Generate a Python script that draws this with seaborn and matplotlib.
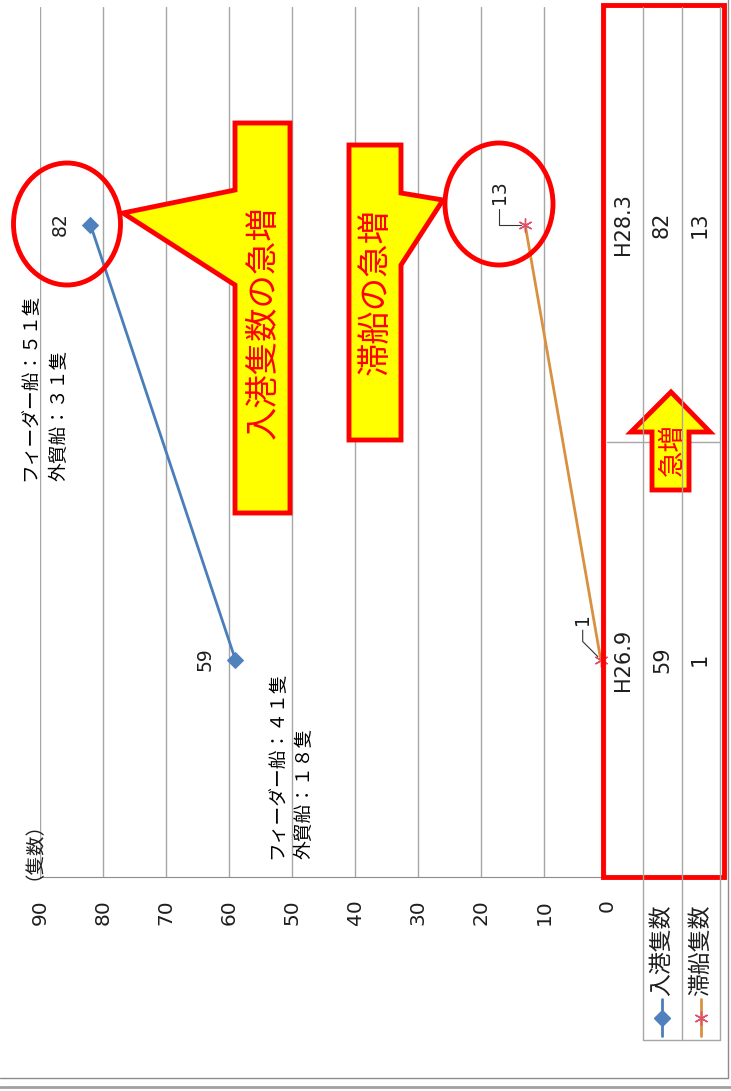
import numpy as np
import pandas as pd
import matplotlib
matplotlib.use("Agg")
import matplotlib.pyplot as plt
import matplotlib.transforms as mtransforms
from matplotlib.patches import Polygon, Ellipse, Rectangle
from matplotlib.lines import Line2D
import seaborn as sns

categories = ["H26.9", "H28.3"]
inbound = [59, 82]        # 入港隻数
waiting = [1, 13]         # 滞船隻数
series_names = ["入港隻数", "滞船隻数"]
value_ticks = [0, 10, 20, 30, 40, 50, 60, 70, 80, 90]
breakdown_h269 = ["フィーダー船：４１隻", "外貿船：１８隻"]
breakdown_h283 = ["フィーダー船：５１隻", "外貿船：３１隻"]
unit_label = "（隻数）"
callout_inbound = "入港隻数の急増"
callout_waiting = "滞船の急増"
arrow_label = "急増"

sns.set_style("white")
plt.rcParams['font.family'] = ['Noto Sans CJK JP', 'DejaVu Sans']
NUM_FONT = ['DejaVu Sans', 'Noto Sans CJK JP']   # wider digits, like the Excel font

W, H = 731, 1091
fig = plt.figure(figsize=(W / 100, H / 100), dpi=100)
fig.patch.set_facecolor("white")

def fx(x):
    return x / W

def fy(y):
    return 1 - y / H

def P(x, y):
    return (x / W, 1 - y / H)

RED = "#FF0000"
YEL = "#FFFF00"
GRID = "#A6A6A6"
TXT = "#1E1E1E"

# the whole chart is turned 90 degrees: values run right -> left
ax = fig.add_axes([fx(40), fy(877), (607 - 40) / W, (877 - 7) / H])
pos = np.arange(len(categories))
df = pd.DataFrame({"pos": pos, "cat": categories, "inbound": inbound, "waiting": waiting})

sns.lineplot(data=df, x="inbound", y="pos", orient="y", sort=False, ax=ax,
             color="#4A7EBB", lw=2, marker="D", markersize=8,
             markerfacecolor="#4F81BD", markeredgecolor="#4F81BD")
sns.lineplot(data=df, x="waiting", y="pos", orient="y", sort=False, ax=ax,
             color="#D9913F", lw=2, marker=(6, 2, 0), markersize=10,
             markeredgecolor="#E0506A", markeredgewidth=1)

ax.set_xlim(90, 0)
ax.set_ylim(-0.5, 1.5)
ax.set_xticks(value_ticks)
ax.set_xticklabels([str(v) for v in value_ticks], rotation=90, family=NUM_FONT)
ax.set_yticks([])
ax.tick_params(axis="x", length=0, pad=16, labelsize=14.5, labelcolor=TXT)
ax.grid(axis="x", color=GRID, lw=1)
ax.grid(axis="y", visible=False)
for s in ["top", "left", "right"]:
    ax.spines[s].set_visible(False)
ax.spines["bottom"].set_color("#8C8C8C")
ax.set_xlabel("")
ax.set_ylabel("")

# data labels
for i, v in enumerate(inbound):
    ax.annotate(str(v), (v, i), xytext=(-30, 0), textcoords="offset pixels",
                rotation=90, ha="center", va="center", fontsize=13.5, color=TXT,
                family=NUM_FONT)
ax.annotate(str(waiting[1]), (waiting[1], 1), xytext=(-26, 32), textcoords="offset pixels",
            rotation=90, ha="center", va="center", fontsize=13.5, color=TXT, family=NUM_FONT,
            arrowprops=dict(arrowstyle="-", color="#333333", lw=0.8, shrinkA=1, shrinkB=3,
                            connectionstyle="angle,angleA=90,angleB=0,rad=0"))
ax.annotate(str(waiting[0]), (waiting[0], 0), xytext=(-18, 40), textcoords="offset pixels",
            rotation=90, ha="center", va="center", fontsize=13.5, color=TXT, family=NUM_FONT,
            arrowprops=dict(arrowstyle="-", color="#333333", lw=0.8, shrinkA=1, shrinkB=3,
                            connectionstyle="angle,angleA=90,angleB=135,rad=0"))

# data table on the (original) category axis
trans = mtransforms.blended_transform_factory(fig.transFigure, ax.transData)
for i, c in enumerate(categories):
    ax.text(fx(623), i, c, transform=trans, rotation=90, ha="center", va="center",
            fontsize=15, color=TXT, clip_on=False, family=NUM_FONT)
    ax.text(fx(662), i, str(inbound[i]), transform=trans, rotation=90, ha="center",
            va="center", fontsize=15, color=TXT, clip_on=False, family=NUM_FONT)
    ax.text(fx(700), i, str(waiting[i]), transform=trans, rotation=90, ha="center",
            va="center", fontsize=15, color=TXT, clip_on=False, family=NUM_FONT)
ax.add_line(Line2D([fx(607), fx(720)], [0.5, 0.5], transform=trans, color=GRID,
                   lw=1, clip_on=False))
for x in [643, 682, 720]:
    fig.add_artist(Line2D([fx(x), fx(x)], [fy(7), fy(1040)], transform=fig.transFigure,
                          color=GRID, lw=1))
fig.add_artist(Line2D([fx(643), fx(720)], [fy(1040), fy(1040)], transform=fig.transFigure,
                      color=GRID, lw=1))

# legend keys inside the table
fig.text(fx(662), fy(996), series_names[0], rotation=90, rotation_mode="anchor",
         ha="left", va="center", fontsize=16.5, color=TXT)
fig.text(fx(701), fy(996), series_names[1], rotation=90, rotation_mode="anchor",
         ha="left", va="center", fontsize=16.5, color=TXT)
fig.add_artist(Line2D([fx(662), fx(662)], [fy(999), fy(1036)], transform=fig.transFigure,
                      color="#4A7EBB", lw=2))
fig.add_artist(Line2D([fx(662)], [fy(1018)], transform=fig.transFigure, marker="D",
                      markersize=8, color="#4F81BD", lw=0))
fig.add_artist(Line2D([fx(701), fx(701)], [fy(999), fy(1036)], transform=fig.transFigure,
                      color="#D9913F", lw=2))
fig.add_artist(Line2D([fx(701)], [fy(1018)], transform=fig.transFigure, marker=(6, 2, 0),
                      markersize=10, markeredgecolor="#E0506A", markeredgewidth=1, lw=0))

# outer frame
fig.add_artist(Line2D([fx(728), fx(728)], [fy(0), fy(1078)], transform=fig.transFigure,
                      color="#8C8C8C", lw=1))
fig.add_artist(Line2D([fx(0), fx(728)], [fy(1078), fy(1078)], transform=fig.transFigure,
                      color="#8C8C8C", lw=1))
fig.add_artist(Line2D([fx(0), fx(731)], [fy(1087), fy(1087)], transform=fig.transFigure,
                      color="#A0A0A0", lw=2))

# unit and breakdown notes
fig.text(fx(24), fy(841), unit_label, rotation=90, ha="center", va="center",
         fontsize=14, color=TXT)
fig.text(fx(30), fy(481), breakdown_h283[0], rotation=90, rotation_mode="anchor",
         ha="left", va="center", fontsize=13.5, color="black")
fig.text(fx(59), fy(481), breakdown_h283[1], rotation=90, rotation_mode="anchor",
         ha="left", va="center", fontsize=13.5, color="black")
fig.text(fx(277), fy(859), breakdown_h269[0], rotation=90, rotation_mode="anchor",
         ha="left", va="center", fontsize=13.5, color="black")
fig.text(fx(304), fy(859), breakdown_h269[1], rotation=90, rotation_mode="anchor",
         ha="left", va="center", fontsize=13.5, color="black")

# red box round the data table
fig.add_artist(Rectangle(P(603, 877), (724 - 603) / W, (877 - 5) / H, transform=fig.transFigure,
                         fill=False, ec=RED, lw=3.5))

# callouts
c1 = [(290, 123), (235, 123), (235, 190), (123, 213), (235, 285), (235, 513), (290, 513)]
fig.add_artist(Polygon([P(*p) for p in c1], closed=True, transform=fig.transFigure,
                       fc=YEL, ec=RED, lw=3.5, joinstyle="miter"))
fig.text(fx(263), fy(322), callout_inbound, rotation=90, ha="center", va="center",
         fontsize=24, color=RED)

c2 = [(349, 145), (401, 145), (401, 193), (443, 200), (401, 265), (401, 440), (349, 440)]
fig.add_artist(Polygon([P(*p) for p in c2], closed=True, transform=fig.transFigure,
                       fc=YEL, ec=RED, lw=3.5, joinstyle="miter"))
fig.text(fx(376), fy(292), callout_waiting, rotation=90, ha="center", va="center",
         fontsize=24, color=RED)

arrow = [(671, 392), (710, 432), (689, 432), (689, 490), (652, 490), (652, 432), (631, 432)]
fig.add_artist(Polygon([P(*p) for p in arrow], closed=True, transform=fig.transFigure,
                       fc=YEL, ec=RED, lw=3.5, joinstyle="miter"))
fig.text(fx(672), fy(450), arrow_label, rotation=90, ha="center", va="center",
         fontsize=19, color=RED)

# highlight circles
fig.add_artist(Ellipse(P(67, 224), 107 / W, 122 / H, transform=fig.transFigure,
                       fill=False, ec=RED, lw=3.5))
fig.add_artist(Ellipse(P(499, 204), 108 / W, 122 / H, transform=fig.transFigure,
                       fill=False, ec=RED, lw=3.5))

fig.savefig("out.png", dpi=100)
